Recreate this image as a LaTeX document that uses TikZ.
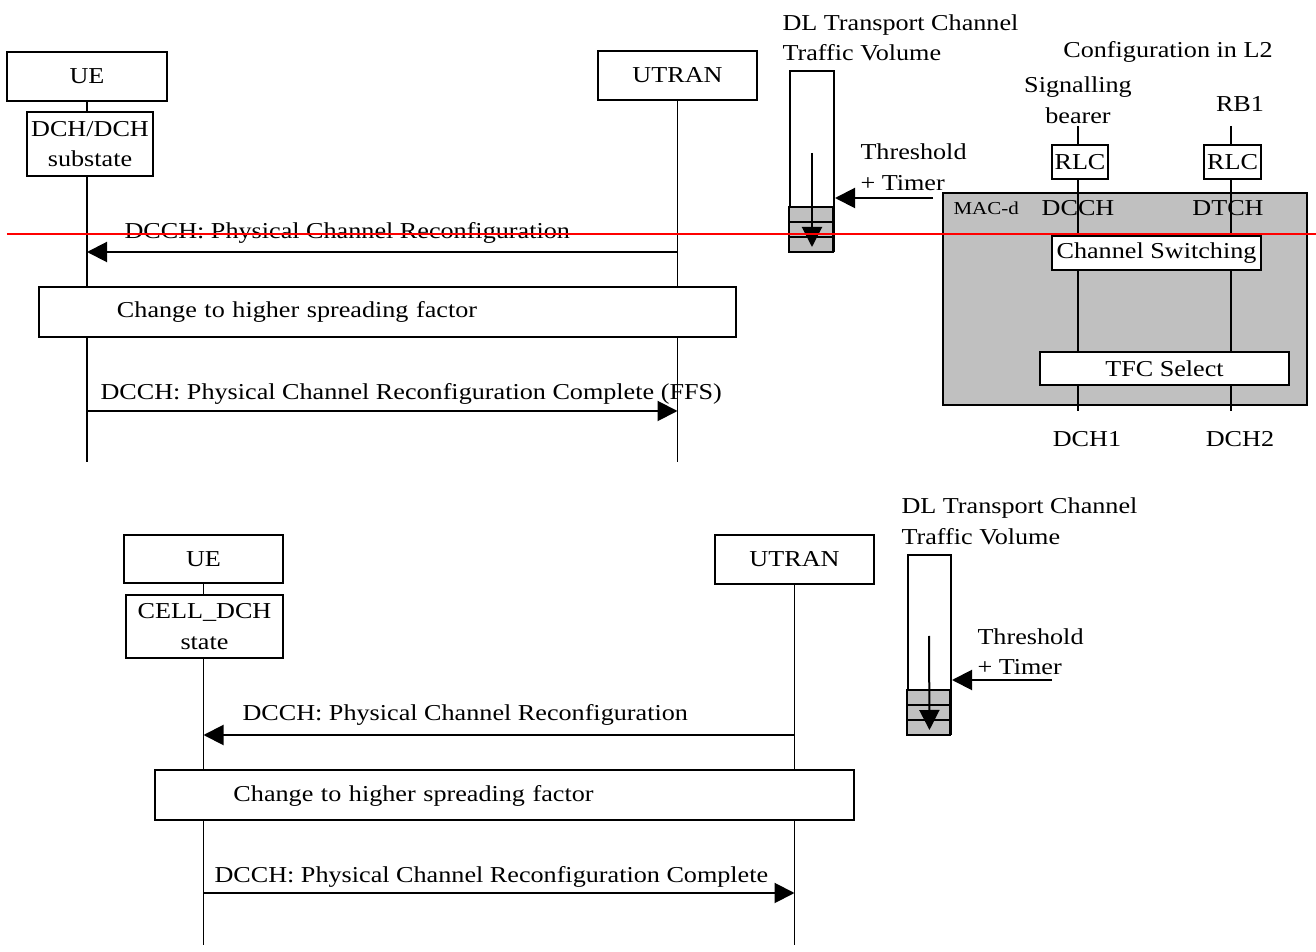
\documentclass[tikz,border=0pt]{standalone}
\usepackage{fontspec}
\setmainfont[FakeStretch=1.15]{Liberation Serif}
\usepackage{tikz}
\usetikzlibrary{positioning,arrows.meta}
\definecolor{blk}{HTML}{000000}
\definecolor{cellgray}{HTML}{C0C0C0}
\definecolor{cut}{HTML}{FF0000}
\tikzset{
  >={Triangle[length=8pt,width=8pt]},
  ent/.style={draw=blk, line width=0.8pt, inner sep=0pt, align=center},
  bar/.style={ent, fill=white, align=left, inner xsep=31.2pt, minimum height=20pt},
  life/.style={draw=blk, line width=0.7pt},
  msg/.style={->, line width=0.8pt, draw=blk},
  cell/.style={draw=blk, line width=0.8pt, fill=cellgray},
  txt/.style={inner sep=0pt, align=left, anchor=west},
  small/.style={font=\fontsize{7.3}{9}\selectfont},
}

\begin{document}
\begin{tikzpicture}[x=0.4pt, y=-0.4pt, font=\fontsize{9.1}{12.2}\selectfont]
  \useasboundingbox (0,0) rectangle (1316,952);
  % upper chart
  \node[ent, minimum width=64pt, minimum height=19.6pt] (ue1) at (87,76.5) {UE};
  \node[ent, minimum width=50.4pt, minimum height=25.6pt] (st1) at (90,144) {DCH/DCH\\substate};
  \node[ent, minimum width=63.6pt, minimum height=19.6pt] (utran1) at (677.5,75.5) {UTRAN};
  \coordinate (end1) at (0,462);
  \draw[life] (ue1.south) -- (ue1.south |- st1.north);
  \draw[life] (ue1.south |- st1.south) -- (ue1.south |- end1);
  \draw[life] (utran1.south) -- (utran1.south |- end1);
  \coordinate (m1) at (0,252);
  \draw[msg] (utran1 |- m1) -- (ue1 |- m1);
  \node[txt] (lab1) at (124,233) {DCCH: Physical Channel Reconfiguration};
  \node[bar, text width=216.4pt] (chg1) at (387.5,312) {Change to higher spreading factor};
  \coordinate (m2) at (0,411);
  \draw[msg] (ue1 |- m2) -- (utran1 |- m2);
  \node[txt] (lab2) at (100,394) {DCCH: Physical Channel Reconfiguration Complete (FFS)};
  % traffic volume, upper
  \node[txt] (tv1) at (782,38) {DL Transport Channel\\Traffic Volume};
  \node[ent, minimum width=17.6pt, minimum height=72pt] (buf1) at (812,161) {};
  \foreach \i in {0,1,2}
    \draw[cell] ([yshift=6*\i pt]buf1.south west) rectangle ++(44,-15);
  \coordinate (lvl1) at (812,153);
  \draw[msg] (lvl1) -- ([yshift=2pt]buf1.south);
  \coordinate (thr1) at (933,198);
  \draw[msg] (thr1) -- (thr1 -| buf1.east);
  \node[txt] (th1) at (860,167) {Threshold\\+ Timer};
  % L2 configuration
  \node (cfg) at (1168,52) {Configuration in L2};
  \node[ent, fill=cellgray, minimum width=145.6pt, minimum height=84.8pt] (mac) at (1125,299) {};
  \node[txt, small] (macl) at (953,208) {MAC-d};
  \node[ent, minimum width=22.4pt, minimum height=13.6pt] (rlcA) at (1080,162) {RLC};
  \node[ent, minimum width=22.8pt, minimum height=13.6pt] (rlcB) at (1232.5,162) {RLC};
  \node[ent, fill=white, minimum width=83.6pt, minimum height=13.6pt] (sw) at (1156.5,253) {Channel Switching};
  \node[ent, fill=white, minimum width=99.6pt, minimum height=13.2pt] (tfc) at (1164.5,368.5) {TFC Select};
  \coordinate (colA) at (1078,126);
  \coordinate (colB) at (1231,126);
  \coordinate (bot) at (0,411);
  \foreach \c in {colA,colB} {
    \draw[life] (\c) -- (\c |- rlcA.north);
    \draw[life] (\c |- rlcA.south) -- (\c |- sw.north);
    \draw[life] (\c |- sw.south) -- (\c |- tfc.north);
    \draw[life] (\c |- tfc.south) -- (\c |- bot);
  }
  \node[align=center] (sig) at (1078,100) {Signalling\\bearer};
  \node (rb) at (1240,104) {RB1};
  \node (dcch) at (1078,208) {DCCH};
  \node (dtch) at (1228,208) {DTCH};
  \node (dch1) at (1087,439) {DCH1};
  \node (dch2) at (1240,439) {DCH2};
  % red cut line
  \draw[cut, line width=0.8pt] (7,234) -- (1316,234);
  % lower chart
  \node[ent, minimum width=63.6pt, minimum height=19.2pt] (ue2) at (203.5,559) {UE};
  \node[ent, minimum width=62.8pt, minimum height=25.2pt] (st2) at (204.5,626.5) {CELL\_DCH\\state};
  \node[ent, minimum width=63.6pt, minimum height=19.6pt] (utran2) at (794.5,559.5) {UTRAN};
  \coordinate (end2) at (0,945);
  \draw[life] (ue2.south) -- (ue2.south |- st2.north);
  \draw[life] (ue2.south |- st2.south) -- (ue2.south |- end2);
  \draw[life] (utran2.south) -- (utran2.south |- end2);
  \coordinate (m3) at (0,735);
  \draw[msg] (utran2 |- m3) -- (ue2 |- m3);
  \node[txt] (lab3) at (242,715) {DCCH: Physical Channel Reconfiguration};
  \node[bar, text width=216.8pt] (chg2) at (504.5,795.5) {Change to higher spreading factor};
  \coordinate (m4) at (0,893);
  \draw[msg] (ue2 |- m4) -- (utran2 |- m4);
  \node[txt] (lab4) at (214,877) {DCCH: Physical Channel Reconfiguration Complete};
  % traffic volume, lower
  \node[txt] (tv2) at (901,521.5) {DL Transport Channel\\Traffic Volume};
  \node[ent, minimum width=17.2pt, minimum height=71.6pt] (buf2) at (929.5,644.5) {};
  \foreach \i in {0,1,2}
    \draw[cell] ([yshift=6*\i pt]buf2.south west) rectangle ++(43,-15);
  \coordinate (lvl2) at (929,636);
  \draw[msg] (lvl2) -- ([yshift=2pt]buf2.south);
  \coordinate (thr2) at (1052,680);
  \draw[msg] (thr2) -- (thr2 -| buf2.east);
  \node[txt] (th2) at (977,651.5) {Threshold\\+ Timer};
\end{tikzpicture}
\end{document}
